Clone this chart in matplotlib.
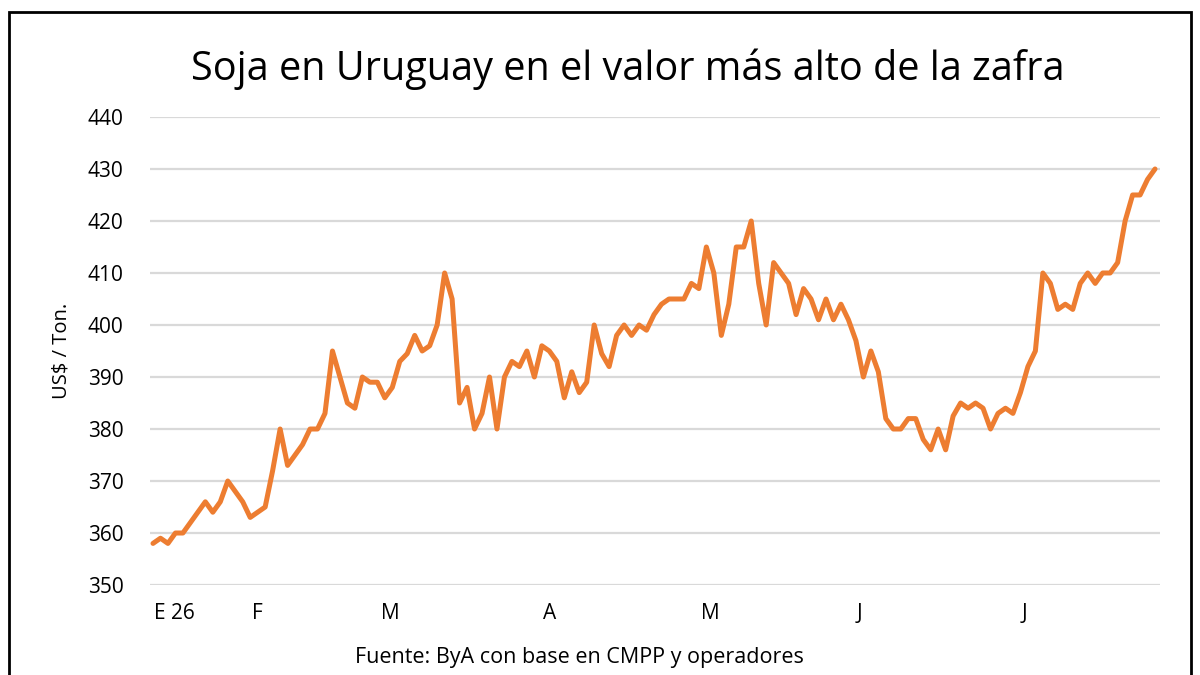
import matplotlib
matplotlib.use('Agg')
import matplotlib.pyplot as plt
from matplotlib.patches import Rectangle

# precio soja (US$/ton), desde fines de enero
precio = [
    358, 359, 358, 360, 360, 362, 364, 366, 364, 366,
    370, 368, 366, 363, 364, 365, 372, 380, 373, 375,
    377, 380, 380, 383, 395, 390, 385, 384, 390, 389,
    389, 386, 388, 393, 394.5, 398, 395, 396, 400, 410,
    405, 385, 388, 380, 383, 390, 380, 390, 393, 392,
    395, 390, 396, 395, 393, 386, 391, 387, 389, 400,
    394.5, 392, 398, 400, 398, 400, 399, 402, 404, 405,
    405, 405, 408, 407, 415, 410, 398, 404, 415, 415,
    420, 408, 400, 412, 410, 408, 402, 407, 405, 401,
    405, 401, 404, 401, 397, 390, 395, 391, 382, 380,
    380, 382, 382, 378, 376, 380, 376, 382.5, 385, 384,
    385, 384, 380, 383, 384, 383, 387, 392, 395, 410,
    408, 403, 404, 403, 408, 410, 408, 410, 410, 412,
    420, 425, 425, 428, 430,
]
mes_labels = ['E 26', 'F', 'M', 'A', 'M', 'J', 'J']
mes_pos = [2.9, 13.9, 31.7, 53.0, 74.5, 94.5, 116.6]
y_ticks = list(range(350, 441, 10))

fnt = 'Open Sans'
fig = plt.figure(figsize=(12, 6.75), dpi=100)
ax = fig.add_axes([0.125, 0.1333, 0.8417, 0.6934])

ax.plot(range(len(precio)), precio, color='#ED7D31', lw=3.6,
        solid_joinstyle='round', solid_capstyle='round', zorder=3)

ax.set_xlim(-0.4, len(precio) - 1 + 0.67)
ax.set_ylim(350, 440)
ax.set_yticks(y_ticks)
ax.set_yticklabels([str(v) for v in y_ticks], fontsize=15, family=fnt)
ax.set_xticks(mes_pos)
ax.set_xticklabels(mes_labels, fontsize=15, family=fnt)
ax.tick_params(axis='both', length=0, colors='#000000')
ax.tick_params(axis='y', pad=19)
ax.tick_params(axis='x', pad=13)
ax.grid(axis='y', color='#D9D9D9', lw=1.6, zorder=0)
for s in ax.spines.values():
    s.set_visible(False)

ax.set_ylabel('US$ / Ton.', fontsize=14.5, family=fnt, labelpad=12)

fig.text(0.523, 1 - 69 / 675, 'Soja en Uruguay en el valor más alto de la zafra',
         ha='center', va='center', fontsize=28.5, family=fnt)
fig.text(0.483, 1 - 657 / 675, 'Fuente: ByA con base en CMPP y operadores',
         ha='center', va='center', fontsize=15.5, family=fnt)

# marco negro
fig.patches.append(Rectangle((9 / 1200, -0.02), 1182 / 1200, 1.02 - 12 / 675,
                             transform=fig.transFigure, fill=False,
                             edgecolor='black', lw=2))

fig.savefig('out.png', dpi=100)
